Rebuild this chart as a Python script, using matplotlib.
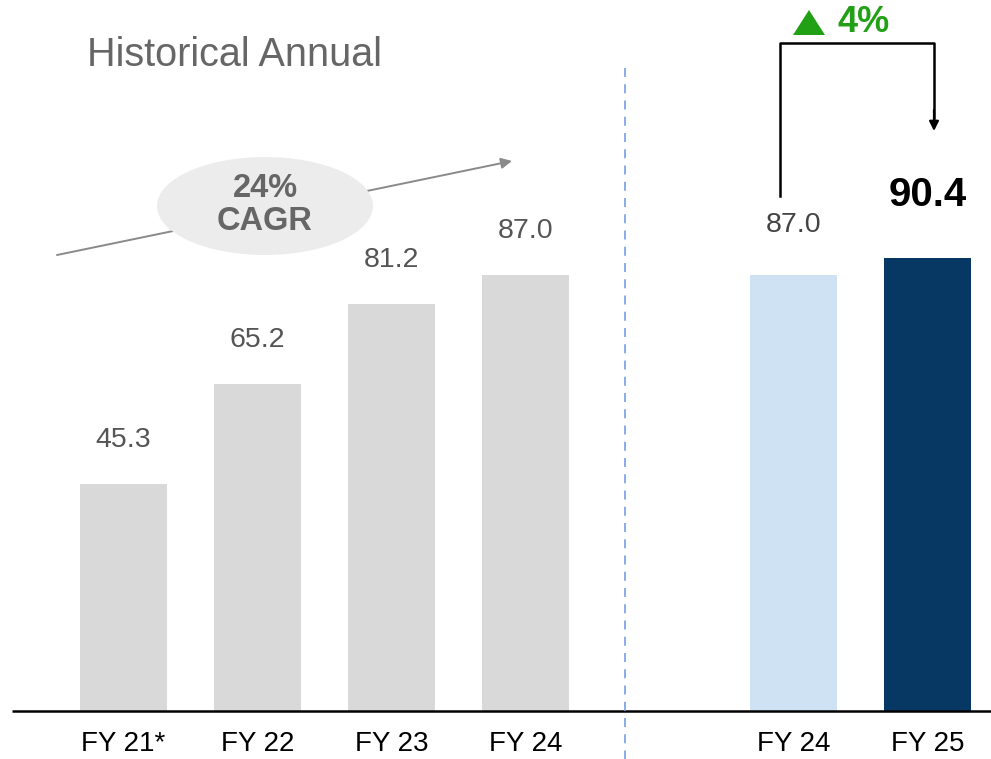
import matplotlib.pyplot as plt
from matplotlib.patches import Ellipse, Polygon

# data
hist_labels = ['FY 21*', 'FY 22', 'FY 23', 'FY 24']
hist_values = [45.3, 65.2, 81.2, 87.0]
cmp_labels = ['FY 24', 'FY 25']
cmp_values = [87.0, 90.4]
cagr_text = '24%\nCAGR'
growth_text = '4%'

W, H = 991, 759
fig = plt.figure(figsize=(W / 100, H / 100), dpi=100)
ax = fig.add_axes([0, 0, 1, 1])
plt.rcParams['font.family'] = ['Liberation Sans', 'DejaVu Sans']


def fx(px):
    return px / W


def fy(py):
    return 1 - py / H


hist_pos = [0, 1, 2, 3]
cmp_pos = [5, 6]
bw = 0.65

ax.bar(hist_pos, hist_values, width=bw, color='#d9d9d9', zorder=2)
ax.bar(cmp_pos, cmp_values, width=bw, color=['#cfe2f3', '#073763'], zorder=2)

for p, v in zip(hist_pos, hist_values):
    ax.text(p, v + 8.8, f'{v:.1f}', ha='center', va='center', fontsize=20.5, color='#555555')
ax.text(cmp_pos[0], cmp_values[0] + 10.0, f'{cmp_values[0]:.1f}', ha='center', va='center',
        fontsize=20.5, color='#444444')
ax.text(cmp_pos[1], cmp_values[1] + 12.6, f'{cmp_values[1]:.1f}', ha='center', va='center',
        fontsize=29, fontweight='bold', color='black')

# x labels
for p, lab in zip(hist_pos + cmp_pos, hist_labels + cmp_labels):
    ax.text(p, -6.5, lab, ha='center', va='center', fontsize=20, color='black')

# pixel scale: x = 123.5 + 134*pos, y = 711 - 5.01*value
ax.set_xlim(-123.5 / 134, (W - 123.5) / 134)
ax.set_ylim(-(H - 711) / 5.01, 711 / 5.01)
ax.axis('off')

# baseline
ax.plot([(12 - 123.5) / 134, (W - 123.5) / 134], [0, 0], color='black', lw=1.8, zorder=3,
        solid_capstyle='butt')

# divider
fig.add_artist(plt.Line2D([fx(625), fx(625)], [fy(68), fy(H)], color='#7fa6e6', lw=1.3,
                          linestyle=(0, (5, 4))))

# title
fig.text(fx(87), fy(55), 'Historical Annual', ha='left', va='center', fontsize=28.5, color='#666666')

# CAGR arrow and bubble
ax.annotate('', xy=(fx(512), fy(161)), xytext=(fx(57), fy(255)), xycoords='figure fraction',
            textcoords='figure fraction',
            arrowprops=dict(arrowstyle='-|>', color='#8a8a8a', lw=1.4, mutation_scale=16,
                            shrinkA=0, shrinkB=0))
fig.add_artist(Ellipse((fx(265), fy(206)), 216 / W, 98 / H, transform=fig.transFigure,
                       facecolor='#ececec', edgecolor='none', zorder=5))
fig.text(fx(265), fy(205), cagr_text, ha='center', va='center', fontsize=23.5, fontweight='bold',
         color='#666666', linespacing=1.05, zorder=6)

# growth bracket
fig.add_artist(plt.Line2D([fx(780), fx(780), fx(934), fx(934)], [fy(196), fy(43), fy(43), fy(118)],
                          color='black', lw=1.8))
ax.annotate('', xy=(fx(934), fy(131)), xytext=(fx(934), fy(110)), xycoords='figure fraction',
            textcoords='figure fraction',
            arrowprops=dict(arrowstyle='-|>', color='black', lw=1.6, mutation_scale=14,
                            shrinkA=0, shrinkB=0))
fig.add_artist(Polygon([(fx(793), fy(35)), (fx(825), fy(35)), (fx(809), fy(10))], closed=True,
                       transform=fig.transFigure, facecolor='#22a015', edgecolor='none'))
fig.text(fx(838), fy(22), growth_text, ha='left', va='center', fontsize=26, fontweight='bold',
         color='#22a015')

fig.savefig('out.png', dpi=100)
